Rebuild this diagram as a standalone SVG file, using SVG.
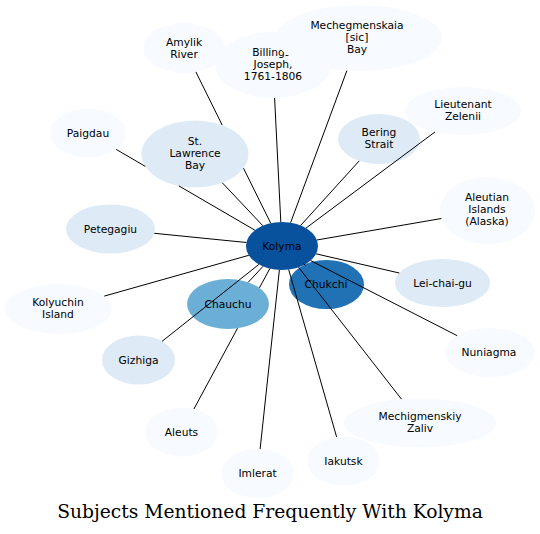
<svg xmlns="http://www.w3.org/2000/svg" width="540" height="534" viewBox="0 0 540 534">
<style>
  .n0 { fill: #f7fbff; }
  .n1 { fill: #deebf7; }
  .n5 { fill: #6baed6; }
  .n7 { fill: #2171b5; }
  .n8 { fill: #08519c; }
  .lbl { font-family: "DejaVu Sans", "Liberation Sans", sans-serif; font-size: 10.7px; text-anchor: middle; fill: #000; }
  .edges path { stroke: #000; stroke-width: 1; fill: none; }
  .title { font-family: "DejaVu Serif", "Liberation Serif", serif; font-size: 18.7px; text-anchor: middle; fill: #000; }
</style>
<rect width="540" height="534" fill="#ffffff"/>
<g id="nodes">
  <g id="amylik"><ellipse class="n0" cx="184" cy="48" rx="41" ry="25"/><text class="lbl" x="184" y="45.5">Amylik</text><text class="lbl" x="184" y="57.5">River</text></g>
  <g id="billings"><ellipse class="n0" cx="273" cy="65" rx="58" ry="33"/><text class="lbl" x="273" y="56">Billings,</text><text class="lbl" x="273" y="68">Joseph,</text><text class="lbl" x="273" y="80">1761-1806</text></g>
  <g id="mechegmenskaia"><ellipse class="n0" cx="359" cy="38" rx="83" ry="33"/><text class="lbl" x="357" y="29">Mechegmenskaia</text><text class="lbl" x="357" y="41">[sic]</text><text class="lbl" x="357" y="53">Bay</text></g>
  <g id="paigdau"><ellipse class="n0" cx="88" cy="133" rx="38" ry="24.5"/><text class="lbl" x="88" y="136.5">Paigdau</text></g>
  <g id="stlawrence"><ellipse class="n1" cx="195" cy="154" rx="53.5" ry="33.5"/><text class="lbl" x="195" y="145">St.</text><text class="lbl" x="195" y="157">Lawrence</text><text class="lbl" x="195" y="169">Bay</text></g>
  <g id="petegagiu"><ellipse class="n1" cx="110.5" cy="229" rx="44.5" ry="24.5"/><text class="lbl" x="110.5" y="232.5">Petegagiu</text></g>
  <g id="bering"><ellipse class="n1" cx="379" cy="139" rx="41" ry="25"/><text class="lbl" x="379" y="136">Bering</text><text class="lbl" x="379" y="148">Strait</text></g>
  <g id="lieutenant"><ellipse class="n0" cx="463" cy="111" rx="58" ry="24"/><text class="lbl" x="463" y="108">Lieutenant</text><text class="lbl" x="463" y="120">Zelenii</text></g>
  <g id="aleutian"><ellipse class="n0" cx="487.5" cy="210.5" rx="47.5" ry="33.5"/><text class="lbl" x="487" y="201">Aleutian</text><text class="lbl" x="487" y="213">Islands</text><text class="lbl" x="487" y="225">(Alaska)</text></g>
  <g id="leichaigu"><ellipse class="n1" cx="442.5" cy="283" rx="47.5" ry="24"/><text class="lbl" x="442.5" y="286.5">Lei-chai-gu</text></g>
  <g id="nuniagma"><ellipse class="n0" cx="490" cy="352.5" rx="45" ry="24.5"/><text class="lbl" x="489" y="356">Nuniagma</text></g>
  <g id="mechigmenskiy"><ellipse class="n0" cx="420" cy="423" rx="76" ry="24.5"/><text class="lbl" x="420" y="419.5">Mechigmenskiy</text><text class="lbl" x="420" y="431.5">Zaliv</text></g>
  <g id="iakutsk"><ellipse class="n0" cx="343.5" cy="461" rx="36.5" ry="24.5"/><text class="lbl" x="343.5" y="464.5">Iakutsk</text></g>
  <g id="imlerat"><ellipse class="n0" cx="257.5" cy="473.5" rx="36.5" ry="24.5"/><text class="lbl" x="257.5" y="477">Imlerat</text></g>
  <g id="aleuts"><ellipse class="n0" cx="181.5" cy="432" rx="36.5" ry="24.5"/><text class="lbl" x="181.5" y="435.5">Aleuts</text></g>
  <g id="gizhiga"><ellipse class="n1" cx="138.5" cy="360" rx="36.5" ry="24.5"/><text class="lbl" x="138.5" y="363.5">Gizhiga</text></g>
  <g id="kolyuchin"><ellipse class="n0" cx="58.5" cy="309" rx="53.5" ry="25"/><text class="lbl" x="58" y="306">Kolyuchin</text><text class="lbl" x="58" y="318">Island</text></g>
  <g id="chauchu"><ellipse class="n5" cx="228" cy="304" rx="41" ry="25"/><text class="lbl" x="228" y="307.5">Chauchu</text></g>
  <g id="chukchi"><ellipse class="n7" cx="326.5" cy="284.5" rx="37.5" ry="24.5"/><text class="lbl" x="326" y="288">Chukchi</text></g>
  <g id="kolyma"><ellipse class="n8" cx="282" cy="246" rx="36" ry="24"/><text class="lbl" x="282" y="249.5">Kolyma</text></g>
</g>
<g id="connectors" class="edges">
  <path d="M270.7,223.2 L243.5,168.2 M222.2,125.1 L195.9,71.9"/>
  <path d="M280.8,222.0 L274.6,98.0"/>
  <path d="M290.6,222.7 L346.9,70.6"/>
  <path d="M254.9,230.2 L178.9,185.9 M145.3,166.4 L116.2,149.4"/>
  <path d="M262.8,225.7 L222.3,182.8"/>
  <path d="M246.4,242.5 L154.3,233.3"/>
  <path d="M300.6,225.5 L359.2,160.9"/>
  <path d="M306.0,228.1 L434.9,132.0"/>
  <path d="M316.8,240.0 L441.4,218.5"/>
  <path d="M316.0,253.8 L399.3,273.0"/>
  <path d="M310.6,260.6 L457.2,335.7"/>
  <path d="M298.6,267.3 L401.5,399.2"/>
  <path d="M288.7,269.6 L336.6,436.9"/>
  <path d="M279.4,269.9 L260.1,449.1"/>
  <path d="M269.8,268.6 L259.4,287.9 M237.5,328.3 L193.9,409.0"/>
  <path d="M258.9,264.4 L162.1,341.3"/>
  <path d="M248.8,255.3 L104.3,296.1"/>
  <path d="M263.0,266.4 L248.2,282.3"/>
  <path d="M303.5,263.5 L305.5,265.5"/>
</g>
<text class="title" x="270" y="518">Subjects Mentioned Frequently With Kolyma</text>
</svg>
